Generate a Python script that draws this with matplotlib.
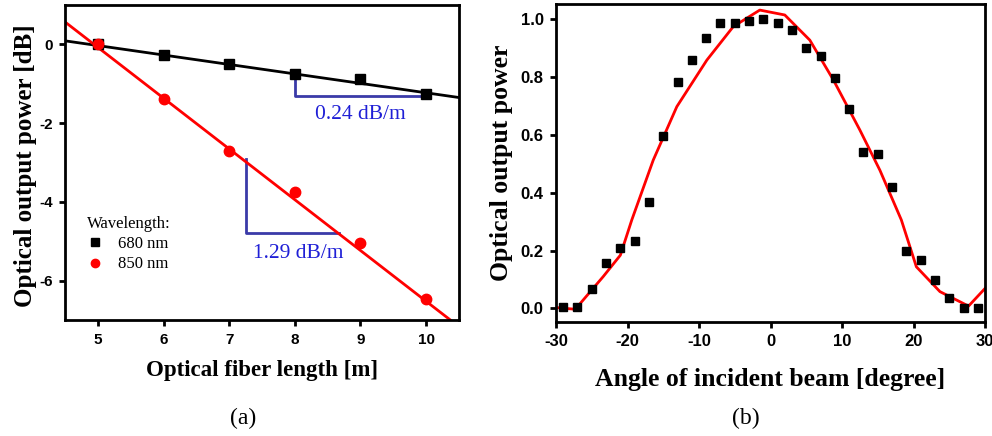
import matplotlib
matplotlib.use("Agg")
import matplotlib.pyplot as plt
import numpy as np

# ---- Panel (a) data ----
length_m = [5, 6, 7, 8, 9, 10]
loss_680 = [0.0, -0.28, -0.49, -0.76, -0.89, -1.27]
loss_850 = [0.0, -1.38, -2.70, -3.76, -5.05, -6.47]
fit_x = [4.5, 10.5]
fit_680 = [0.09, -1.35]
fit_850 = [0.57, -7.17]
slope_680_label = "0.24 dB/m"
slope_850_label = "1.29 dB/m"
a_xticks = [5, 6, 7, 8, 9, 10]
a_yticks = [0, -2, -4, -6]

# ---- Panel (b) data ----
angle_deg = [-29, -27, -25, -23, -21, -19, -17, -15, -13, -11, -9, -7, -5, -3, -1,
             1, 3, 5, 7, 9, 11, 13, 15, 17, 19, 21, 23, 25, 27, 29]
power_meas = [0.005, 0.005, 0.066, 0.158, 0.208, 0.233, 0.368, 0.598, 0.783, 0.858,
              0.935, 0.988, 0.988, 0.994, 1.001, 0.988, 0.963, 0.902, 0.873, 0.796,
              0.689, 0.542, 0.535, 0.421, 0.198, 0.167, 0.098, 0.037, 0.003, 0.002]
curve_angle = [-30, -27.3, -26.2, -23.4, -21.0, -19.4, -16.4, -13.1, -8.9, -5.2, -1.5,
               2.0, 5.5, 8.8, 12.5, 15.3, 18.3, 20.4, 23.7, 27.7, 30]
curve_power = [0.003, -0.003, 0.029, 0.11, 0.184, 0.306, 0.513, 0.698, 0.859, 0.975, 1.032,
               1.015, 0.928, 0.79, 0.617, 0.478, 0.306, 0.144, 0.058, 0.008, 0.069]
b_xticks = [-30, -20, -10, 0, 10, 20, 30]
b_yticks = [0.0, 0.2, 0.4, 0.6, 0.8, 1.0]

serif = "Liberation Serif"
sans = "Liberation Sans"

fig = plt.figure(figsize=(9.92, 4.36), dpi=100)

# ---------- (a) ----------
ax1 = fig.add_axes([65/992, 1-320/436, 394/992, 315/436])
ax1.plot(fit_x, fit_680, color="black", lw=2, zorder=2)
ax1.plot(fit_x, fit_850, color="red", lw=2, zorder=2)
ax1.plot(length_m, loss_680, "s", color="black", ms=6.5, label="680 nm", zorder=3)
ax1.plot(length_m, loss_850, "o", color="red", ms=7.5, label="850 nm", zorder=3)

tri = "#3a3aa8"
txtblue = "#1f1fd6"
ax1.plot([8.0, 8.0, 10.0], [-0.75, -1.32, -1.32], color=tri, lw=2, zorder=1)
ax1.text(9.0, -1.78, slope_680_label, color=txtblue, fontsize=15.5, fontfamily=serif,
         ha="center", va="center")
ax1.plot([7.25, 7.25, 8.67], [-2.9, -4.78, -4.78], color=tri, lw=2, zorder=1)
ax1.text(8.05, -5.3, slope_850_label, color=txtblue, fontsize=15.5, fontfamily=serif,
         ha="center", va="center")

ax1.set_xlim(4.5, 10.5)
ax1.set_ylim(-7, 1)
ax1.set_xticks(a_xticks)
ax1.set_xticklabels([str(v) for v in a_xticks])
ax1.set_yticks(a_yticks)
ax1.set_yticklabels([str(v) for v in a_yticks])
leg = ax1.legend(loc="upper left", bbox_to_anchor=(0.055, 0.33), frameon=False,
                 title="Wavelength:", handletextpad=0.9, handlelength=1.0,
                 borderaxespad=0, borderpad=0, labelspacing=0.25, markerscale=0.8,
                 prop={"family": serif, "size": 12})
leg.get_title().set_fontfamily(serif)
leg.get_title().set_fontsize(12)
leg._legend_box.align = "left"
ax1.set_xlabel("Optical fiber length [m]", fontfamily=serif, fontweight="bold",
               fontsize=16.5)
ax1.xaxis.set_label_coords(0.5, -0.128)
ax1.set_ylabel("Optical output power [dB]", fontfamily=serif, fontweight="bold",
               fontsize=18)
ax1.yaxis.set_label_coords(-0.072, 0.49)

# ---------- (b) ----------
ax2 = fig.add_axes([556/992, 1-321.7/436, 429/992, 317.7/436])
ax2.plot(curve_angle, curve_power, color="red", lw=2, zorder=2)
ax2.plot(angle_deg, power_meas, "s", color="black", ms=5.5, zorder=3)
ax2.set_xlim(-30, 30)
ax2.set_ylim(-0.046, 1.053)
ax2.set_xticks(b_xticks)
ax2.set_xticklabels([str(v) for v in b_xticks])
ax2.set_yticks(b_yticks)
ax2.set_yticklabels([f"{v:.1f}" for v in b_yticks])
ax2.set_xlabel("Angle of incident beam [degree]", fontfamily=serif, fontweight="bold",
               fontsize=18.5)
ax2.xaxis.set_label_coords(0.5, -0.145)
ax2.set_ylabel("Optical output power", fontfamily=serif, fontweight="bold",
               fontsize=18.5)
ax2.yaxis.set_label_coords(-0.1, 0.5)

for ax, ls in ((ax1, 11), (ax2, 12)):
    for s in ax.spines.values():
        s.set_linewidth(2)
    ax.tick_params(direction="out", length=4, width=2, labelsize=ls, pad=5)
    for lab in ax.get_xticklabels() + ax.get_yticklabels():
        lab.set_fontfamily(sans)
        lab.set_fontweight("bold")

fig.text(243/992, 1-418/436, "(a)", fontfamily=serif, fontsize=17, ha="center", va="center")
fig.text(746/992, 1-418/436, "(b)", fontfamily=serif, fontsize=17, ha="center", va="center")

fig.savefig("out.png", dpi=100)
